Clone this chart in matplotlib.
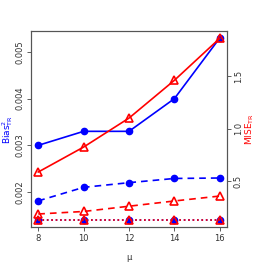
import matplotlib
matplotlib.use("Agg")
import matplotlib.pyplot as plt

mu = [8, 10, 12, 14, 16]
bias_solid = [0.0030, 0.0033, 0.0033, 0.0040, 0.0053]
bias_dashed = [0.00181, 0.0021, 0.0022, 0.00229, 0.0023]
bias_dotted = [0.0014, 0.0014, 0.0014, 0.0014, 0.0014]
mise_solid = [0.586, 0.824, 1.10, 1.46, 1.86]
mise_dashed = [0.186, 0.21, 0.26, 0.31, 0.357]
mise_dotted = [0.129, 0.129, 0.129, 0.129, 0.129]

fig = plt.figure(figsize=(2.66, 2.66), dpi=100)
ax = fig.add_axes([31/266, 39/266, 196/266, 196/266])
ax2 = ax.twinx()

ms = 4.5
ax.plot(mu, bias_solid, '-', color='blue', marker='o', ms=ms, lw=1.2)
ax.plot(mu, bias_dashed, '--', color='blue', marker='o', ms=ms, lw=1.2, dashes=(4, 3))
ax.plot(mu, bias_dotted, ':', color='blue', marker='o', ms=ms, lw=1.2)
ax2.plot(mu, mise_solid, '-', color='red', marker='^', ms=ms + 1, mfc='none', mew=1.2, lw=1.2)
ax2.plot(mu, mise_dashed, '--', color='red', marker='^', ms=ms + 1, mfc='none', mew=1.2, lw=1.2, dashes=(4, 3))
ax2.plot(mu, mise_dotted, ':', color='red', marker='^', ms=ms + 1, mfc='none', mew=1.2, lw=1.2)

ax.set_xlim(7.68, 16.32)
ax.set_ylim(0.00125, 0.00545)
ax2.set_ylim(0.062, 1.93)

ax.set_xticks(mu)
ax.set_yticks([0.002, 0.003, 0.004, 0.005])
ax.set_yticklabels(['0.002', '0.003', '0.004', '0.005'], rotation=90, va='center')
ax2.set_yticks([0.5, 1.0, 1.5])
ax2.set_yticklabels(['0.5', '1.0', '1.5'], rotation=90, va='center')

for a in (ax, ax2):
    a.tick_params(labelsize=6, length=3, width=0.6, color='#444', labelcolor='#333', pad=2)
    for s in a.spines.values():
        s.set_color('#555')
        s.set_linewidth(0.8)

ax.set_xlabel('μ', fontsize=6, color='#333')
ax.xaxis.set_label_coords(0.5, -0.133)
ax.set_ylabel(r'$\mathrm{Bias}^2_{\mathrm{TR}}$', color='blue', fontsize=6.5, va='center')
ax.yaxis.set_label_coords(-0.118, 0.5)
ax2.set_ylabel(r'$\mathrm{MISE}_{\mathrm{TR}}$', color='red', fontsize=6.5, va='center')
ax2.yaxis.set_label_coords(1.118, 0.5)

fig.savefig('out.png', dpi=100)
